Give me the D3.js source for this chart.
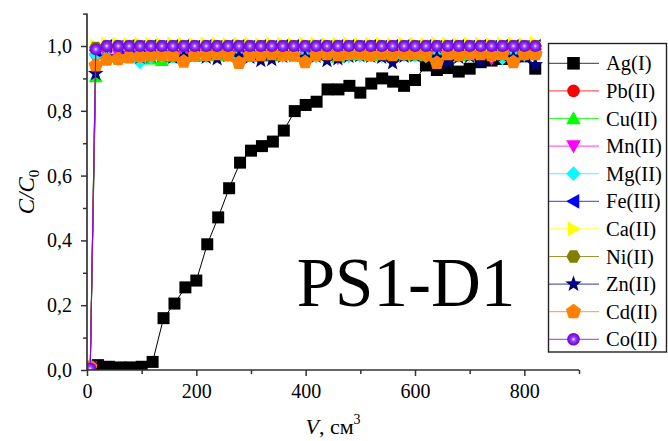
<!DOCTYPE html>
<html><head><meta charset="utf-8">
<script src="https://cdn.jsdelivr.net/npm/d3@7"></script>
<style>
body{margin:0;background:#fff}
svg{display:block}
text{font-family:"Liberation Serif","Times New Roman",serif;fill:#000}
</style>
</head><body>
<svg id="chart" width="668" height="441"></svg>
<script>
// ---------- data ----------
const volAg = [20,40,60,80,100,120,140,160,180,200,220,240,260,280,300,320,340,360,380,400,420,440,460,480,500,520,540,560,580,600,620,640,660,680,700,720,740,760,780,800,820];
const agValues = [0.015,0.010,0.008,0.008,0.010,0.025,0.160,0.205,0.255,0.276,0.388,0.471,0.561,0.640,0.677,0.691,0.705,0.739,0.799,0.818,0.828,0.866,0.866,0.877,0.856,0.884,0.900,0.890,0.877,0.895,0.940,0.926,0.932,0.921,0.930,0.950,0.955,0.960,0.965,0.968,0.930];

const volMetal = [6,16,36,57,77,97,117,137,157,177,197,218,238,258,278,298,318,338,358,378,399,419,439,459,479,499,519,539,559,580,600,620,640,660,680,700,720,740,760,780,800,820];
const pbValues = [0.01,0.990,1.000,0.995,1.000,1.000,0.995,1.000,1.000,0.998,1.000,1.000,0.997,1.000,1.000,1.000,0.996,1.000,1.000,1.000,0.998,1.000,1.000,1.000,0.997,1.000,1.000,1.000,1.000,0.998,1.000,1.000,1.000,1.000,0.997,1.000,1.000,1.000,1.000,1.000,0.998,1.000];
const cuValues = [0.01,0.905,0.965,0.970,0.965,0.968,0.960,0.955,0.965,0.970,0.968,0.970,0.972,0.970,0.975,0.970,0.968,0.970,0.972,0.975,0.970,0.972,0.975,0.965,0.972,0.975,0.970,0.975,0.972,0.975,0.970,0.975,0.972,0.975,0.970,0.975,0.978,0.975,0.980,0.975,0.978,0.985];
const mnValues = [0.01,0.960,0.975,0.975,0.970,0.975,0.972,0.975,0.975,0.970,0.975,0.975,0.972,0.975,0.975,0.972,0.975,0.975,0.970,0.975,0.975,0.972,0.975,0.962,0.975,0.975,0.972,0.975,0.975,0.972,0.975,0.975,0.972,0.975,0.975,0.972,0.975,0.960,0.975,0.972,0.975,0.975];
const mgValues = [0.01,0.972,0.965,0.960,0.970,0.950,0.965,0.970,0.968,0.965,0.970,0.968,0.970,0.972,0.968,0.970,0.972,0.968,0.970,0.972,0.970,0.968,0.970,0.972,0.968,0.970,0.972,0.968,0.970,0.972,0.970,0.968,0.970,0.965,0.970,0.972,0.968,0.970,0.962,0.970,0.972,0.970];
const feValues = [0.01,0.985,1.000,0.998,1.000,0.998,1.000,0.998,1.000,1.000,0.998,1.000,0.998,1.000,1.000,0.998,1.000,0.998,1.000,1.000,0.998,1.000,0.998,1.000,1.000,0.998,1.000,0.998,1.000,1.000,0.998,1.000,0.998,1.000,1.000,0.998,1.000,0.998,1.000,1.000,0.998,1.000];
const caValues = [0.01,1.000,1.008,1.008,1.006,1.008,1.008,1.006,1.008,1.008,1.006,1.008,1.008,1.006,1.008,1.008,1.006,1.008,1.008,1.006,1.008,1.008,1.006,1.008,1.008,1.006,1.008,1.008,1.006,1.008,1.008,1.006,1.008,1.008,1.006,1.008,1.008,1.006,1.008,1.008,1.006,1.010];
const niValues = [0.01,0.995,1.000,1.000,1.000,1.000,1.000,1.000,1.000,1.000,1.000,1.000,1.000,1.000,1.000,1.000,1.000,1.000,1.000,1.000,1.000,1.000,1.000,1.000,1.000,1.000,1.000,1.000,1.000,1.000,1.000,1.000,1.000,1.000,1.000,1.000,1.000,1.000,1.000,1.000,1.000,1.000];
const znValues = [0.01,0.915,0.965,0.965,0.970,0.965,0.968,0.970,0.965,0.968,0.970,0.965,0.960,0.970,0.968,0.965,0.955,0.958,0.968,0.970,0.965,0.968,0.955,0.960,0.968,0.970,0.968,0.965,0.948,0.968,0.970,0.968,0.965,0.950,0.965,0.968,0.952,0.968,0.970,0.965,0.968,0.942];
const cdValues = [0.01,0.940,0.958,0.960,0.965,0.968,0.970,0.972,0.970,0.952,0.970,0.972,0.975,0.972,0.948,0.970,0.972,0.975,0.972,0.970,0.950,0.972,0.975,0.972,0.975,0.975,0.972,0.975,0.972,0.975,0.975,0.972,0.948,0.975,0.972,0.975,0.975,0.972,0.975,0.950,0.975,0.975];
const coValues = [0.005,0.990,1.000,1.000,1.000,1.000,1.000,1.000,1.000,1.000,1.000,1.000,1.000,1.000,1.000,1.000,1.000,1.000,1.000,1.000,1.000,1.000,1.000,1.000,1.000,1.000,1.000,1.000,1.000,1.000,1.000,1.000,1.000,1.000,1.000,1.000,1.000,1.000,1.000,1.000,1.000,1.000];

const seriesNames = ["Ag(I)","Pb(II)","Cu(II)","Mn(II)","Mg(II)","Fe(III)","Ca(II)","Ni(II)","Zn(II)","Cd(II)","Co(II)"];
const xMajorTicks = [0,200,400,600,800];
const xMinorTicks = [100,300,500,700,900];
const yMajorTicks = [0,0.2,0.4,0.6,0.8,1.0];
const yMinorTicks = [0.1,0.3,0.5,0.7,0.9,1.1];
const sampleLabel = "PS1-D1";

// ---------- style ----------
const series = [
  {name:seriesNames[0], v:volAg,    y:agValues, color:"#000000", line:"#000000", shape:"square"},
  {name:seriesNames[1], v:volMetal, y:pbValues, color:"#ff0000", line:"#ff0000", shape:"circle"},
  {name:seriesNames[2], v:volMetal, y:cuValues, color:"#00ff00", line:"#00ff00", shape:"up"},
  {name:seriesNames[3], v:volMetal, y:mnValues, color:"#ff00ff", line:"#ff00ff", shape:"down"},
  {name:seriesNames[4], v:volMetal, y:mgValues, color:"#00ffff", line:"#00ffff", shape:"diamond"},
  {name:seriesNames[5], v:volMetal, y:feValues, color:"#0000ff", line:"#0000ff", shape:"left"},
  {name:seriesNames[6], v:volMetal, y:caValues, color:"#ffff00", line:"#ffff00", shape:"right"},
  {name:seriesNames[7], v:volMetal, y:niValues, color:"#808000", line:"#808000", shape:"hexagon"},
  {name:seriesNames[8], v:volMetal, y:znValues, color:"#000080", line:"#000080", shape:"star"},
  {name:seriesNames[9], v:volMetal, y:cdValues, color:"#ff8000", line:"#ff8000", shape:"pentagon"},
  {name:seriesNames[10],v:volMetal, y:coValues, color:"url(#coGrad)", line:"#8000ff", shape:"circle"}
];

function poly(pts){return "M"+pts.map(p=>p[0].toFixed(2)+","+p[1].toFixed(2)).join("L")+"Z";}
function regular(n,r,rot){const p=[];for(let i=0;i<n;i++){const a=rot+i*2*Math.PI/n;p.push([r*Math.cos(a),r*Math.sin(a)]);}return p;}
function shapePath(shape){
  switch(shape){
    case "square": return poly([[-6,-6],[6,-6],[6,6],[-6,6]]);
    case "circle": return "M6,0A6,6 0 1,1 -6,0A6,6 0 1,1 6,0Z";
    case "up": return poly([[0,-7],[7,5.5],[-7,5.5]]);
    case "down": return poly([[0,7],[7,-5.5],[-7,-5.5]]);
    case "left": return poly([[-7,0],[5.5,-7],[5.5,7]]);
    case "right": return poly([[7,0],[-5.5,-7],[-5.5,7]]);
    case "diamond": return poly([[0,-7],[7,0],[0,7],[-7,0]]);
    case "hexagon": return poly(regular(6,6.8,0));
    case "pentagon": return poly(regular(5,7.6,-Math.PI/2));
    case "star": {const p=[];for(let i=0;i<10;i++){const r=i%2?3.4:8.2;const a=-Math.PI/2+i*Math.PI/5;p.push([r*Math.cos(a),r*Math.sin(a)]);}return poly(p);}
  }
}

// ---------- chart ----------
const svg = d3.select("#chart");
const defs = svg.append("defs");
const g = defs.append("radialGradient").attr("id","coGrad").attr("cx","50%").attr("cy","50%").attr("r","50%");
[[0,"#f6eeff"],[0.1,"#dcc0ff"],[0.3,"#a04cff"],[0.6,"#8420f0"],[1,"#6e00d6"]].forEach(s=>g.append("stop").attr("offset",s[0]).attr("stop-color",s[1]));

const L=87,R=579,T=13.6,B=370;
const x = d3.scaleLinear().domain([0,900]).range([L,R]);
const y = d3.scaleLinear().domain([0,1.1]).range([B,T]);

defs.append("clipPath").attr("id","plotClip").append("rect").attr("x",L).attr("y",0).attr("width",R-L+10).attr("height",B);

const plot = svg.append("g").attr("clip-path","url(#plotClip)");
const lineGen = d3.line().x(d=>x(d[0])).y(d=>y(d[1]));
series.forEach(s=>{
  const pts = s.v.map((v,i)=>[v,s.y[i]]);
  plot.append("path").attr("d",lineGen(pts)).attr("fill","none").attr("stroke",s.line).attr("stroke-width",1);
  plot.selectAll(null).data(pts).enter().append("path")
    .attr("d",shapePath(s.shape))
    .attr("transform",d=>`translate(${x(d[0])},${y(d[1])})`)
    .attr("fill",s.color).attr("stroke","none");
});

// axes
const axisColor="#333";
const xAxis = svg.append("g").attr("transform",`translate(0,${B})`)
  .call(d3.axisBottom(x).tickValues(xMajorTicks).tickSize(6).tickPadding(8).tickFormat(d=>String(d)));
const xMinor = svg.append("g").attr("transform",`translate(0,${B})`)
  .call(d3.axisBottom(x).tickValues(xMinorTicks).tickSize(4).tickFormat(""));
xMinor.select(".domain").remove();
const yAxis = svg.append("g").attr("transform",`translate(${L},0)`)
  .call(d3.axisLeft(y).tickValues(yMajorTicks).tickSize(6).tickPadding(9).tickFormat(d=>d3.format(".1f")(d).replace(".",",")));
const yMinor = svg.append("g").attr("transform",`translate(${L},0)`)
  .call(d3.axisLeft(y).tickValues(yMinorTicks).tickSize(4).tickFormat(""));
yMinor.select(".domain").remove();
[xAxis,xMinor,yAxis,yMinor].forEach(a=>{
  a.selectAll(".domain").attr("stroke",axisColor).attr("stroke-width",1.7);
  a.selectAll(".tick line").attr("stroke",axisColor).attr("stroke-width",1.5);
  a.selectAll("text").attr("font-size",20).attr("font-family","Liberation Serif, serif").attr("fill","#000");
});
yAxis.select(".domain").attr("d",`M0,${B}V${T}`);
xAxis.select(".domain").attr("d",`M0,0H${R-L}`).attr("transform",`translate(${L},0)`);

// axis titles
const yt = svg.append("text").attr("transform",`translate(34,192) rotate(-90)`).attr("text-anchor","middle").attr("font-size",23);
yt.append("tspan").attr("font-style","italic").text("C/C");
yt.append("tspan").attr("font-size",15).attr("dy",5).text("0");

const xt = svg.append("text").attr("x",333).attr("y",434).attr("text-anchor","middle").attr("font-size",22);
xt.append("tspan").attr("font-style","italic").text("V");
xt.append("tspan").text(", см");
xt.append("tspan").attr("font-size",14).attr("dy",-10).text("3");

// sample label
svg.append("text").attr("x",406).attr("y",306).attr("text-anchor","middle").attr("font-size",69).text(sampleLabel);

// legend
const lg = svg.append("g");
lg.append("rect").attr("x",548.5).attr("y",43.5).attr("width",118).attr("height",308.5)
  .attr("fill","#fff").attr("stroke","#222").attr("stroke-width",1.4);
series.forEach((s,i)=>{
  const cy = 63.3 + i*27.6;
  lg.append("line").attr("x1",549).attr("x2",599).attr("y1",cy).attr("y2",cy).attr("stroke",s.line).attr("stroke-width",1).attr("stroke-opacity",0.8);
  lg.append("path").attr("d",shapePath(s.shape)).attr("transform",`translate(573.5,${cy}) scale(1.05)`).attr("fill",s.color);
  lg.append("text").attr("x",606).attr("y",cy+7).attr("font-size",20.5).text(s.name);
});
</script>
</body></html>
